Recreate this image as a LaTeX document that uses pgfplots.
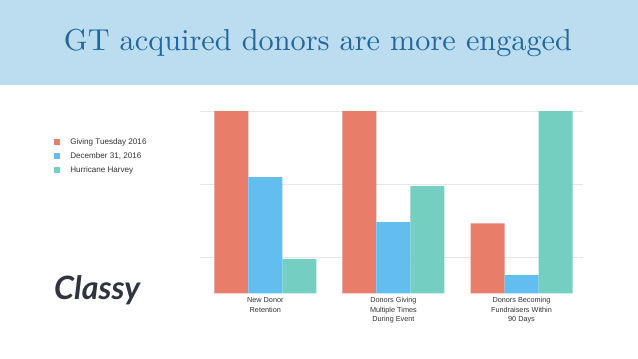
\documentclass[border=0pt]{standalone}
\usepackage{pgfplots}
\pgfplotsset{compat=1.18}
\usepackage{fontspec}
\newfontfamily\arial{Liberation Sans}
\newfontfamily\logofont{Lato}
\definecolor{banner}{HTML}{BCDDF0}
\definecolor{titleblue}{HTML}{23679F}
\definecolor{cred}{HTML}{E87D69}
\definecolor{cblue}{HTML}{63BEF0}
\definecolor{cteal}{HTML}{75CFC0}
\definecolor{gridgray}{HTML}{E6E6E6}
\definecolor{labgray}{HTML}{333333}
\definecolor{logogray}{HTML}{2E3440}
\begin{document}
\begin{tikzpicture}[x=1pt,y=1pt]
\useasboundingbox (0,0) rectangle (638,359);
\fill[white] (0,0) rectangle (638,359);
\fill[banner] (0,274) rectangle (638,359);
\node[anchor=base,inner sep=0,text=titleblue] at (318,308) {\resizebox{508pt}{!}{GT acquired donors are more engaged}};
\node[anchor=base west,inner sep=0,text=logogray] at (54,59) {\resizebox{86pt}{!}{\logofont\bfseries\itshape Classy}};
\begin{axis}[
  at={(200pt,65.7pt)}, anchor=south west,
  width=383pt, height=182.3pt, scale only axis,
  xmin=-0.51, xmax=2.48, ymin=0, ymax=2.5,
  ybar=0pt, bar width=34pt,
  axis line style={draw=none},
  ytick={0.5,1.5,2.5}, yticklabels={},
  ymajorgrids, grid style={gridgray, line width=0.6pt},
  xtick={0,1,2},
  xticklabels={{New Donor\\Retention},{Donors Giving\\Multiple Times\\During Event},{Donors Becoming\\Fundraisers Within\\90 Days}},
  xticklabel style={align=center, font=\arial\fontsize{7.3}{9.5}\selectfont, text=labgray, inner sep=0pt, yshift=-4pt},
  major tick length=0pt,
  clip=false,
  legend style={at={(rel axis cs:-0.381,0.862)}, anchor=north west, draw=none, fill=none,
    font=\arial\fontsize{8.1}{9.5}\selectfont, text=labgray, row sep=2.6pt, inner sep=0pt,
    /tikz/every even column/.append style={column sep=0pt}},
  legend cell align=left,
  legend image code/.code={\fill[#1] (0pt,-3pt) rectangle (6pt,3pt);},
]
\addplot[fill=cred, draw=none] coordinates {(0,2.5) (1,2.5) (2,0.96)};
\addplot[fill=cblue, draw=none] coordinates {(0,1.593) (1,0.977) (2,0.25)};
\addplot[fill=cteal, draw=none] coordinates {(0,0.47) (1,1.47) (2,2.5)};
\legend{{\hspace{8pt}Giving Tuesday 2016},{\hspace{8pt}December 31, 2016},{\hspace{8pt}Hurricane Harvey}}
\end{axis}
\end{tikzpicture}
\end{document}
